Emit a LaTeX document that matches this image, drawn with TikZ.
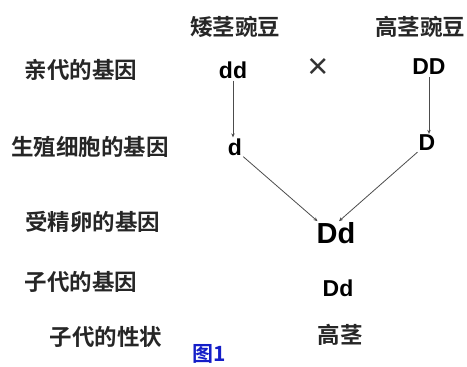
\documentclass[tikz,border=0pt]{standalone}
\usepackage{fontspec}
\setmainfont{Liberation Sans}
\newfontfamily\cjk{Noto Sans CJK SC}[BoldFont={Noto Sans CJK SC Bold}]
\usetikzlibrary{arrows.meta}
\definecolor{figblue}{RGB}{20,30,200}
\begin{document}
\begin{tikzpicture}[x=1pt,y=-1pt,
  lab/.style={inner sep=0pt,font=\cjk\bfseries\fontsize{22.5}{22.5}\selectfont,text=black!85},
  gene/.style={inner sep=1pt,font=\bfseries\fontsize{23}{23}\selectfont},
  conn/.style={draw=black!70,line width=0.8pt,-{Stealth[length=4pt,width=3.5pt]}}]
\useasboundingbox (0,0) rectangle (467,367);
% column headers
\node[lab] (h1) at (235,27) {矮茎豌豆};
\node[lab] (h2) at (420,27) {高茎豌豆};
% row labels
\node[lab] (r1) at (81,70) {亲代的基因};
\node[lab] (r2) at (90,147) {生殖细胞的基因};
\node[lab] (r3) at (93,222) {受精卵的基因};
\node[lab] (r4) at (81,282) {子代的基因};
\node[lab] (r5) at (106,337) {子代的性状};
% genes
\node[gene] (dd) at (233,70) {dd};
\node[inner sep=0pt,font=\fontsize{36}{36}\selectfont,text=black!80] (x) at (318,68) {×};
\node[gene] (DD) at (429,67) {DD};
\node[gene] (d) at (235,147) {d};
\node[gene] (D) at (427,143) {D};
\node[gene,font=\bfseries\fontsize{29}{29}\selectfont] (Dd) at (336,233) {Dd};
\node[gene] (Dd2) at (338,288) {Dd};
\node[lab] (tall) at (340,335) {高茎};
\node[inner sep=0pt,font=\cjk\bfseries\fontsize{21}{21}\selectfont,text=figblue] (fig) at (209,354) {图1};
% connectors
\draw[conn] (dd.south) ++(0,1) coordinate (a1) (a1) -- (a1 |- d.north);
\draw[conn] (DD.south) ++(0,1) coordinate (a2) (a2) -- (a2 |- D.north);
\draw[conn] (d.south east) -- ([xshift=2pt]Dd.north west);
\draw[conn] (D.south west) -- ([xshift=3pt]Dd.north);
\end{tikzpicture}
\end{document}
